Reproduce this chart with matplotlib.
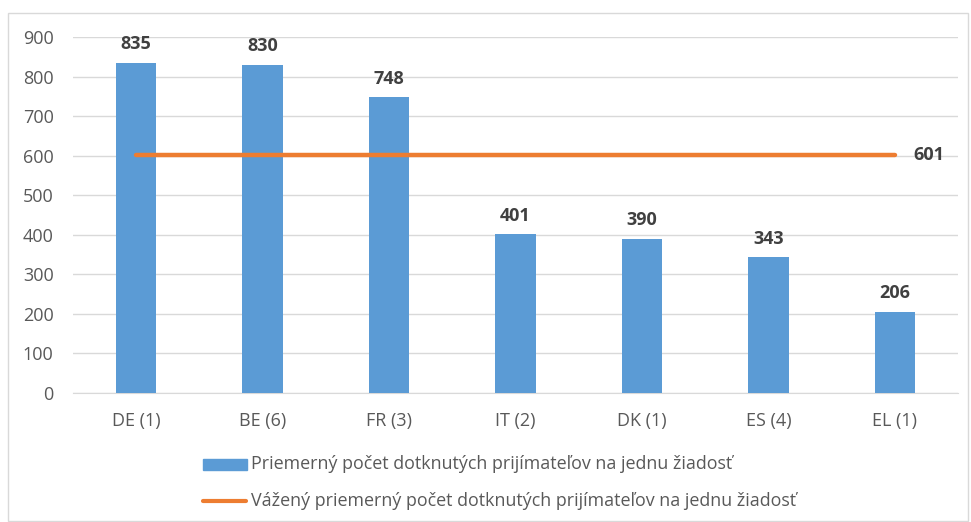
import matplotlib.pyplot as plt
import matplotlib.patches as mpatches
import numpy as np

plt.rcParams['font.family'] = ['Open Sans', 'DejaVu Sans']

countries = ['DE (1)', 'BE (6)', 'FR (3)', 'IT (2)', 'DK (1)', 'ES (4)', 'EL (1)']
avg_values = [835, 830, 748, 401, 390, 343, 206]
weighted_avg = 601

bar_label = 'Priemerný počet dotknutých prijímateľov na jednu žiadosť'
line_label = 'Vážený priemerný počet dotknutých prijímateľov na jednu žiadosť'

blue = '#5B9BD5'
orange = '#ED7D31'
grey = '#595959'

fig = plt.figure(figsize=(9.71, 5.22), dpi=100)
ax = fig.add_axes([0.0752, 0.2471, 0.9114, 0.682])

x = np.arange(len(countries))
ax.bar(x, avg_values, width=0.32, color=blue, zorder=3)
ax.plot(x, [weighted_avg] * len(x), color=orange, lw=3.2, zorder=4, solid_capstyle='round')

for xi, v in zip(x, avg_values):
    ax.text(xi, v + 24, str(v), ha='center', va='bottom', fontsize=13,
            fontweight='bold', color='#404040')
ax.text(x[-1] + 0.27, weighted_avg, str(weighted_avg), ha='center', va='center',
        fontsize=13, fontweight='bold', color='#404040')

ax.set_xlim(-0.5, len(x) - 0.5)
ax.set_ylim(0, 900)
ax.set_yticks(range(0, 901, 100))
ax.set_xticks(x)
ax.set_xticklabels(countries)
ax.yaxis.grid(True, color='#D9D9D9', lw=1)
ax.set_axisbelow(True)
for s in ['top', 'right', 'left']:
    ax.spines[s].set_visible(False)
ax.spines['bottom'].set_color('#D9D9D9')
ax.tick_params(axis='both', length=0, labelsize=13, colors=grey)
ax.tick_params(axis='x', pad=14)
ax.tick_params(axis='y', pad=14)

# legend drawn by hand, two stacked rows under the axes
fig.text(251 / 971, 1 - 464 / 522, bar_label, ha='left', va='center', fontsize=12.9, color=grey)
fig.text(251 / 971, 1 - 501 / 522, line_label, ha='left', va='center', fontsize=12.9, color=grey)
fig.patches.append(mpatches.Rectangle((203 / 971, 1 - 470 / 522), 44 / 971, 11 / 522,
                                      transform=fig.transFigure, color=blue))
fig.lines.append(plt.Line2D([203 / 971, 246 / 971], [1 - 501 / 522] * 2,
                            transform=fig.transFigure, color=orange, lw=3,
                            solid_capstyle='round'))

fig.patches.append(mpatches.Rectangle((8 / 971, 0.002), 960 / 971, 1 - 13 / 522 - 0.002,
                                      transform=fig.transFigure, fill=False,
                                      edgecolor='#D9D9D9', lw=1))

fig.savefig('out.png', dpi=100)
